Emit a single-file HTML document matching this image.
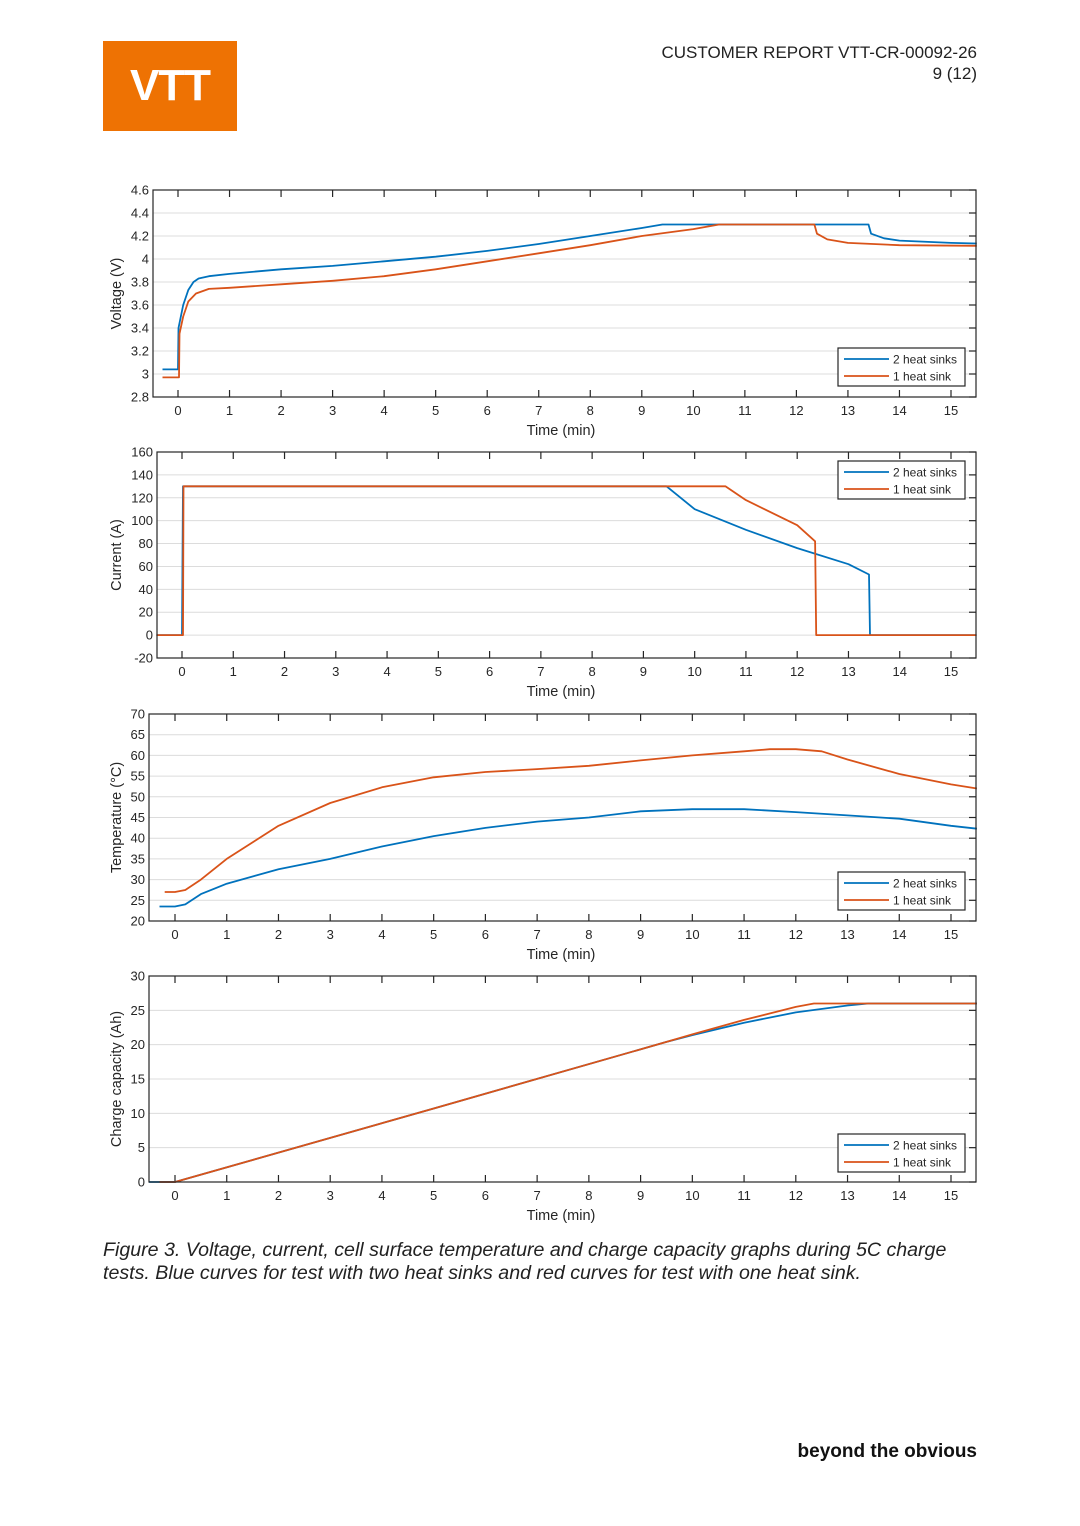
<!DOCTYPE html>
<html><head><meta charset="utf-8">
<style>
body{margin:0;background:#fff;}
#page{position:relative;width:1080px;height:1526px;background:#fff;font-family:"Liberation Sans",Arial,sans-serif;overflow:hidden;}
.logo{position:absolute;left:103px;top:41px;width:134px;height:90px;background:#EE7203;color:#fff;font-weight:bold;font-size:44px;text-align:center;line-height:90px;letter-spacing:-1px;}
.hdr{position:absolute;right:103px;top:42px;text-align:right;font-size:17px;line-height:21px;color:#222;}
.cap{position:absolute;left:103px;top:1239px;font-size:19.6px;font-style:italic;line-height:23px;color:#222;width:875px;}
.foot{position:absolute;right:103px;top:1441px;font-size:19px;font-weight:bold;color:#111;}
svg{position:absolute;left:0;top:0;}
</style></head><body>
<div id="page">
<div class="logo">VTT</div>
<div class="hdr">CUSTOMER REPORT VTT-CR-00092-26<br>9 (12)</div>
<svg id="charts" width="1080" height="1526"></svg>
<div class="cap">Figure 3. Voltage, current, cell surface temperature and charge capacity graphs during 5C charge<br>tests. Blue curves for test with two heat sinks and red curves for test with one heat sink.</div>
<div class="foot">beyond the obvious</div>
</div>
<script>
const xTicks=[0,1,2,3,4,5,6,7,8,9,10,11,12,13,14,15];
const seriesNames=["2 heat sinks","1 heat sink"];
// Voltage
const vTicks=[2.8,3,3.2,3.4,3.6,3.8,4,4.2,4.4,4.6];
const vTicksLbl=["2.8","3","3.2","3.4","3.6","3.8","4","4.2","4.4","4.6"];
const vBlueT=[-0.3,0,0.01,0.1,0.2,0.3,0.4,0.6,1,2,3,4,5,6,7,8,9,9.4,13.4,13.45,13.7,14,15,15.5];
const vBlueV=[3.04,3.04,3.4,3.6,3.73,3.8,3.83,3.85,3.87,3.91,3.94,3.98,4.02,4.07,4.13,4.2,4.27,4.3,4.3,4.22,4.18,4.16,4.14,4.135];
const vRedT=[-0.3,0.02,0.03,0.1,0.2,0.35,0.6,1,2,3,4,5,6,7,8,9,10,10.5,12.35,12.4,12.6,13,14,15.5];
const vRedV=[2.97,2.97,3.35,3.5,3.63,3.7,3.74,3.75,3.78,3.81,3.85,3.91,3.98,4.05,4.12,4.2,4.26,4.3,4.3,4.22,4.17,4.14,4.12,4.115];
// Current
const cTicks=[-20,0,20,40,60,80,100,120,140,160];
const cTicksLbl=["-20","0","20","40","60","80","100","120","140","160"];
const cBlueT=[-0.5,0,0.02,9.45,10,11,12,13,13.4,13.42,15.5];
const cBlueV=[0,0,130,130,110,92,76,62,53,0,0];
const cRedT=[-0.5,0.02,0.03,10.6,11,12,12.35,12.37,15.5];
const cRedV=[0,0,130,130,118,96,82,0,0];
// Temperature
const tTicks=[20,25,30,35,40,45,50,55,60,65,70];
const tTicksLbl=["20","25","30","35","40","45","50","55","60","65","70"];
const tBlueT=[-0.3,0,0.2,0.5,1,2,3,4,5,6,7,8,9,10,11,12,13,14,15,15.5];
const tBlueV=[23.5,23.5,24,26.5,29,32.5,35,38,40.5,42.5,44,45,46.5,47,47,46.3,45.5,44.7,43,42.3];
const tRedT=[-0.2,0,0.2,0.5,1,2,3,4,5,6,7,8,9,10,11,11.5,12,12.5,13,14,15,15.5];
const tRedV=[27,27,27.5,30,35,43,48.5,52.3,54.7,56,56.7,57.5,58.8,60,61,61.5,61.5,61,59,55.5,53,52];
// Charge
const qTicks=[0,5,10,15,20,25,30];
const qTicksLbl=["0","5","10","15","20","25","30"];
const qBlueT=[-0.5,0,5,9.5,10,11,12,13,13.4,15.5];
const qBlueV=[0,0,10.7,20.4,21.4,23.2,24.7,25.7,26,26];
const qRedT=[-0.3,0,5,9.5,10,11,12,12.35,15.5];
const qRedV=[0,0,10.7,20.4,21.5,23.6,25.5,26,26];

const NS="http://www.w3.org/2000/svg";
const svg=document.getElementById('charts');
const BLUE="#0072BD",RED="#D95319";
function mk(tag,attrs,parent){const e=document.createElementNS(NS,tag);for(const k in attrs)e.setAttribute(k,attrs[k]);(parent||svg).appendChild(e);return e;}
function chart(cfg){
  const g=mk('g',{});
  
  
  const {L,R,T,B,x0,x15,ymin,ymax}=cfg;
  const sx=v=>x0+(x15-x0)*v/15;
  const sy=v=>B-(B-T)*(v-ymin)/(ymax-ymin);
  cfg.yTicks.forEach((v,i)=>{
    const y=sy(v);
    if(i>0&&i<cfg.yTicks.length-1){const gl=mk('line',{x1:L,x2:R,y1:y,y2:y,stroke:'#dcdcdc','stroke-width':1},g);
    }
    mk('line',{x1:R,x2:R-7,y1:y,y2:y,stroke:'#262626','stroke-width':1.2},g);
    const t=mk('text',{x:L-4,y:y+4.5,'text-anchor':'end','font-size':13,fill:'#262626'},g);
    t.textContent=cfg.yLbl[i];
    
    
  });
  xTicks.forEach(v=>{
    const x=sx(v);
    mk('line',{x1:x,x2:x,y1:B,y2:B-7,stroke:'#262626','stroke-width':1.2},g);
    mk('line',{x1:x,x2:x,y1:T,y2:T+7,stroke:'#262626','stroke-width':1.2},g);
    const t=mk('text',{x:x,y:B+18,'text-anchor':'middle','font-size':13,fill:'#262626'},g);
    t.textContent=String(v);
    
    
  });
  const draw=(ts,vs,col,nm)=>{
    const p=ts.map((t,i)=>(i?'L':'M')+sx(t).toFixed(1)+','+sy(vs[i]).toFixed(1)).join('');
    const el=mk('path',{d:p,fill:'none',stroke:col,'stroke-width':1.8,'stroke-linejoin':'round'},g);
    
    
  };
  draw(cfg.bt,cfg.bv,BLUE,'series-2-heat-sinks');
  draw(cfg.rt,cfg.rv,RED,'series-1-heat-sink');
  const box=mk('rect',{x:L,y:T,width:R-L,height:B-T,fill:'none',stroke:'#262626','stroke-width':1.2},g);
  
  
  const xl=mk('text',{x:(L+R)/2-(L-150)/2-2,y:B+38,'text-anchor':'middle','font-size':14.5,fill:'#262626'},g);
  xl.textContent='Time (min)';
  
  
  const yl=mk('text',{x:0,y:0,'text-anchor':'middle','font-size':14.5,fill:'#262626',transform:`translate(121,${(T+B)/2}) rotate(-90)`},g);
  yl.textContent=cfg.yTitle;
  
  
  const lg=mk('g',{},g);
  
  
  const ly=cfg.legY;
  mk('rect',{x:838,y:ly,width:127,height:38,fill:'#fff',stroke:'#262626','stroke-width':1.2},lg);
  [[BLUE,seriesNames[0]],[RED,seriesNames[1]]].forEach((s,i)=>{
    const yy=ly+11+i*17;
    mk('line',{x1:844,x2:889,y1:yy,y2:yy,stroke:s[0],'stroke-width':1.8},lg);
    const t=mk('text',{x:893,y:yy+4.5,'font-size':12,fill:'#262626'},lg);
    t.textContent=s[1];
    
    
  });
}
chart({name:'voltage-chart',L:153,R:976,T:190,B:397,x0:178,x15:951,ymin:2.8,ymax:4.6,yTicks:vTicks,yLbl:vTicksLbl,yTitle:'Voltage (V)',bt:vBlueT,bv:vBlueV,rt:vRedT,rv:vRedV,legY:348});
chart({name:'current-chart',L:157,R:976,T:452,B:658,x0:182,x15:951,ymin:-20,ymax:160,yTicks:cTicks,yLbl:cTicksLbl,yTitle:'Current (A)',bt:cBlueT,bv:cBlueV,rt:cRedT,rv:cRedV,legY:461});
chart({name:'temperature-chart',L:149,R:976,T:714,B:921,x0:175,x15:951,ymin:20,ymax:70,yTicks:tTicks,yLbl:tTicksLbl,yTitle:'Temperature (°C)',bt:tBlueT,bv:tBlueV,rt:tRedT,rv:tRedV,legY:872});
chart({name:'charge-capacity-chart',L:149,R:976,T:976,B:1182,x0:175,x15:951,ymin:0,ymax:30,yTicks:qTicks,yLbl:qTicksLbl,yTitle:'Charge capacity (Ah)',bt:qBlueT,bv:qBlueV,rt:qRedT,rv:qRedV,legY:1134});
</script>
</body></html>
